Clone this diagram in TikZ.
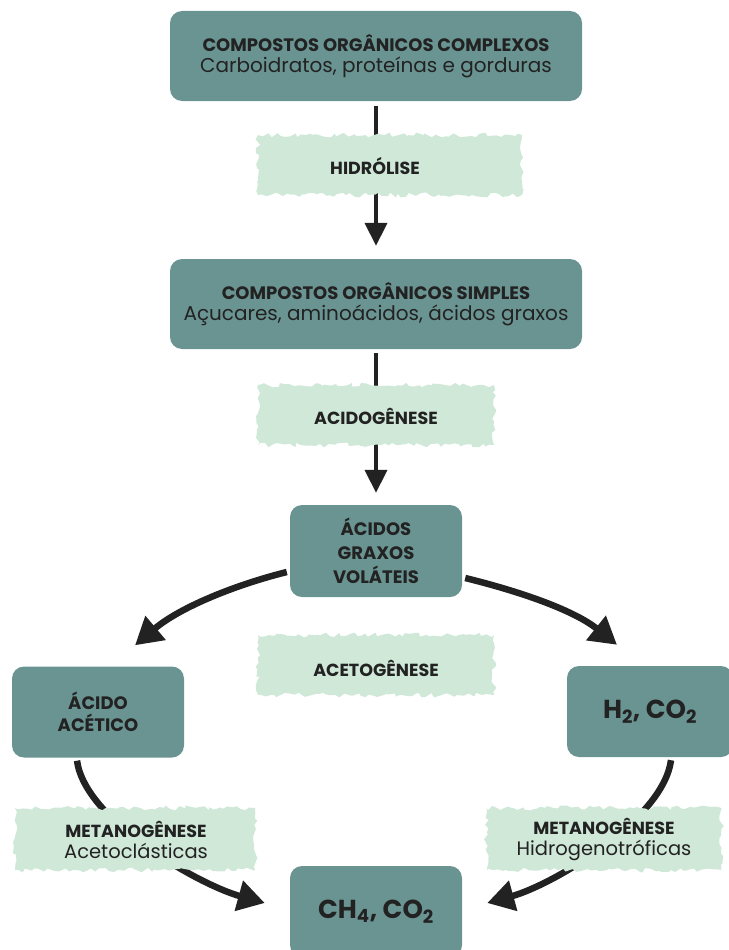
\documentclass[tikz,border=0pt]{standalone}
\usepackage{fontspec}
\setmainfont{Poppins}
\usetikzlibrary{arrows.meta,decorations.pathmorphing,calc}
\definecolor{boxc}{HTML}{6A9492}
\definecolor{tornc}{HTML}{CFE8D8}
\definecolor{ink}{HTML}{222222}
\begin{document}
\begin{tikzpicture}[x=1pt,y=-1pt,
 box/.style={fill=boxc, rounded corners=12pt, text=ink, align=center, inner sep=0pt},
 torn/.style={fill=tornc, decorate, decoration={random steps, segment length=4pt, amplitude=2.4pt}, inner sep=0pt},
 lbl/.style={text=ink, align=center, font=\bfseries\fontsize{17.5}{21}\selectfont},
 twoline/.style={font=\fontsize{20}{21}\selectfont},
 flow/.style={line width=4pt, draw=ink, -{Triangle[length=23pt,width=22pt]}},
 cyc/.style={line width=6.5pt, draw=ink, -{Triangle[length=27pt,width=30pt]}}
]
\pgfmathsetseed{7}
\useasboundingbox (0,0) rectangle (728,950);

% boxes
\node[box, twoline, minimum width=412pt, minimum height=90pt] (top) at (376,56)
  {{\bfseries\fontsize{18}{21}\selectfont COMPOSTOS ORGÂNICOS COMPLEXOS}\\
   Carboidratos, proteínas e gorduras};
\node[box, twoline, minimum width=412pt, minimum height=90pt] (mid) at (376,304)
  {{\bfseries\fontsize{18}{21}\selectfont COMPOSTOS ORGÂNICOS SIMPLES}\\
   Açucares, aminoácidos, ácidos graxos};
\node[box, minimum width=172pt, minimum height=92pt,
      font=\bfseries\fontsize{18}{24}\selectfont] (vfa) at (376,551)
  {ÁCIDOS\\GRAXOS\\VOLÁTEIS};
\node[box, minimum width=172pt, minimum height=91pt,
      font=\bfseries\fontsize{18}{22}\selectfont] (acet) at (98,712)
  {ÁCIDO\\ACÉTICO};
\node[box, minimum width=166pt, minimum height=91pt,
      font=\bfseries\fontsize{26}{28}\selectfont] (h2) at (650,711.5)
  {H\textsubscript{2}, CO\textsubscript{2}};
\node[box, minimum width=172pt, minimum height=91pt,
      font=\bfseries\fontsize{26}{28}\selectfont] (ch4) at (376,911.5)
  {CH\textsubscript{4}, CO\textsubscript{2}};

% straight arrows
\draw[flow] ($(top.south)+(0,5)$) -- ($(mid.north)+(0,-13)$);
\draw[flow] ($(mid.south)+(0,4)$) -- ($(vfa.north)+(0,-12)$);

% cycle arrows
\draw[cyc] ($(vfa.west)+(-3,21)$) .. controls ($(vfa.west)+(-55,34)$) and ($(acet.north)+(82,-59)$) .. ($(acet.north)+(37,-21)$);
\draw[cyc] ($(vfa.east)+(3,27)$) .. controls ($(vfa.east)+(52,39)$) and ($(h2.north)+(-78,-57)$) .. ($(h2.north)+(-33,-21)$);
\draw[cyc] ($(acet.south)+(-21,3)$) .. controls ($(acet.south)+(-13,63)$) and ($(ch4.west)+(-90,-26.5)$) .. ($(ch4.west)+(-25,-8.5)$);
\draw[cyc] ($(h2.south)+(21,3)$) .. controls ($(h2.south)+(13,63)$) and ($(ch4.east)+(90,-26.5)$) .. ($(ch4.east)+(25,-8.5)$);

% torn labels
\node[torn, minimum width=264pt, minimum height=60pt] (hidbg) at (390,165) {};
\node[lbl] (hid) at (375,166) {HIDRÓLISE};
\node[torn, minimum width=236pt, minimum height=60pt] (acibg) at (376,415) {};
\node[lbl] (aci) at (376,416) {ACIDOGÊNESE};
\node[torn, minimum width=236pt, minimum height=60pt] (actbg) at (376,665) {};
\node[lbl] (act) at (376,668) {ACETOGÊNESE};
\node[torn, minimum width=240pt, minimum height=62pt] (m1bg) at (135,839) {};
\node[lbl] (m1) at (136,840) {METANOGÊNESE\\{\mdseries\fontsize{19.5}{21}\selectfont Acetoclásticas}};
\node[torn, minimum width=235pt, minimum height=62pt] (m2bg) at (604,839) {};
\node[lbl] (m2) at (604,839) {METANOGÊNESE\\{\mdseries\fontsize{19.5}{21}\selectfont Hidrogenotróficas}};
\end{tikzpicture}
\end{document}
